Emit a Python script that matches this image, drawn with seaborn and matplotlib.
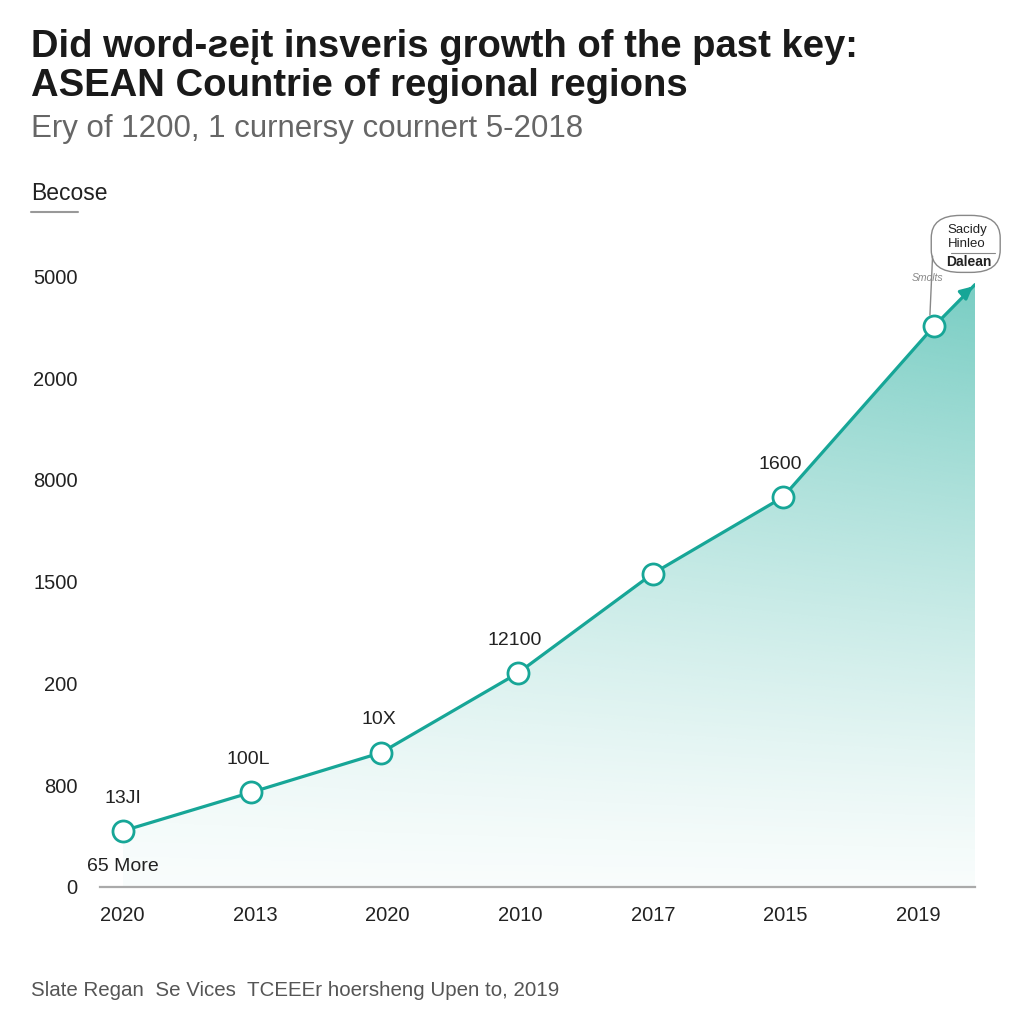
import numpy as np
import pandas as pd
import matplotlib
matplotlib.use("Agg")
import matplotlib.pyplot as plt
import seaborn as sns
from matplotlib.patches import FancyBboxPatch

# chart values
x_labels = ["2020", "2013", "2020", "2010", "2017", "2015", "2019"]
y_labels = ["0", "800", "200", "1500", "8000", "2000", "5000"]
point_x = [0.0, 0.97, 1.95, 2.98, 4.0, 4.98, 6.12]
point_y = [0.55, 0.93, 1.32, 2.10, 3.08, 3.83, 5.51]
tip_x, tip_y = 6.43, 5.92
point_labels = ["13JI", "100L", "10X", "12100", "", "1600", ""]

TEAL = "#17a697"

sns.set_theme(style="white")
plt.rcParams["font.family"] = ["Liberation Sans", "DejaVu Sans"]

fig = plt.figure(figsize=(10.24, 10.24), dpi=100)
ax = fig.add_axes([100 / 1024, 1 - 887 / 1024, 875 / 1024, 637 / 1024])
ax.set_xlim(-0.17, 6.43)
ax.set_ylim(0, 6.26)

df = pd.DataFrame({"x": point_x + [tip_x], "y": point_y + [tip_y]})

# gradient fill under the line
poly_x = list(df["x"]) + [tip_x, point_x[0]]
poly_y = list(df["y"]) + [0, 0]
fill = ax.fill(poly_x, poly_y, facecolor="none", edgecolor="none")[0]
gx, gy = np.meshgrid(np.linspace(0, 1, 300), np.linspace(0, 1, 300))
alpha = np.clip(0.04 + 0.55 * gy ** 1.3 + 0.25 * gx * gy, 0, 0.85)
img = np.zeros((300, 300, 4))
img[..., 0] = 0x5f / 255
img[..., 1] = 0xc4 / 255
img[..., 2] = 0xb8 / 255
img[..., 3] = alpha
im = ax.imshow(img, extent=[point_x[0], tip_x, 0, tip_y], origin="lower",
               aspect="auto", zorder=1)
im.set_clip_path(fill)

sns.lineplot(data=df, x="x", y="y", ax=ax, color=TEAL, linewidth=2.3,
             zorder=3, sort=False)
ax.annotate("", xy=(tip_x, tip_y), xytext=(tip_x - 0.08, tip_y - 0.09),
            arrowprops=dict(arrowstyle="-|>", color=TEAL, lw=2.3,
                            mutation_scale=18), zorder=4)
ax.scatter(point_x, point_y, s=230, facecolor="white", edgecolor=TEAL,
           linewidth=2.0, zorder=5)

for px, py, lab in zip(point_x, point_y, point_labels):
    if lab:
        ax.text(px - 0.02 if px > 0 else px, py + 0.24, lab, ha="center",
                va="bottom", fontsize=14, color="#222222")
ax.text(0.0, 0.12, "65 More", ha="center", va="bottom", fontsize=14,
        color="#222222")

# axes styling
ax.set_xticks(range(len(x_labels)))
ax.set_xticklabels(x_labels, fontsize=14.5, color="#222222")
ax.set_yticks(range(len(y_labels)))
ax.set_yticklabels(y_labels, fontsize=14.5, color="#222222")
ax.tick_params(axis="x", length=12, width=1.6, color="#999999",
               direction="inout", pad=8)
ax.tick_params(axis="y", length=0, pad=16)
for s in ["top", "right", "left"]:
    ax.spines[s].set_visible(False)
ax.spines["bottom"].set_color("#aaaaaa")
ax.spines["bottom"].set_linewidth(1.6)
ax.set_xlabel("")
ax.set_ylabel("")
ax.grid(False)

# callout near the end of the line
box = FancyBboxPatch((6.1, 6.04), 0.52, 0.56, boxstyle="round,pad=0.0,rounding_size=0.22",
                     facecolor="white", edgecolor="#888888", linewidth=1.0,
                     transform=ax.transData, clip_on=False, zorder=6)
ax.add_patch(box)
ax.plot([6.11, 6.09], [6.2, 5.62], color="#888888", lw=1.0, zorder=6, clip_on=False)
ax.text(6.37, 6.46, "Sacidy", ha="center", va="center", fontsize=9.5,
        color="#222222", zorder=7, clip_on=False)
ax.text(6.37, 6.32, "Hinleo", ha="center", va="center", fontsize=9.5,
        color="#222222", zorder=7, clip_on=False)
ax.plot([6.25, 6.58], [6.23, 6.23], color="#888888", lw=0.8, zorder=7, clip_on=False)
ax.text(6.38, 6.14, "Dalean", ha="center", va="center", fontsize=10,
        fontweight="bold", color="#222222", zorder=7, clip_on=False)
ax.text(6.07, 5.98, "Smolts", ha="center", va="center", fontsize=7.5,
        style="italic", color="#888888", zorder=7, clip_on=False)

# titles and notes
fig.text(31 / 1024, 1 - 47 / 1024, "Did word-ƨeįt insveris growth of the past key:",
         fontsize=27.5, fontweight="bold", color="#1a1a1a", va="center")
fig.text(31 / 1024, 1 - 86 / 1024, "ASEAN Countrie of regional regions",
         fontsize=27.5, fontweight="bold", color="#1a1a1a", va="center")
fig.text(31 / 1024, 1 - 129 / 1024, "Ery of 1200, 1 curnersy cournert 5-2018",
         fontsize=22.5, color="#666666", va="center")
fig.text(31 / 1024, 1 - 194 / 1024, "Becose", fontsize=16.5, color="#222222",
         va="center")
fig.add_artist(plt.Line2D([31 / 1024, 78 / 1024], [1 - 212 / 1024, 1 - 212 / 1024],
                          color="#999999", lw=1.5))
fig.text(31 / 1024, 1 - 990 / 1024,
         "Slate Regan  Se Vices  TCEEEr hoersheng Upen to, 2019",
         fontsize=14.8, color="#555555", va="center")

fig.savefig("out.png", dpi=100, facecolor="white")
